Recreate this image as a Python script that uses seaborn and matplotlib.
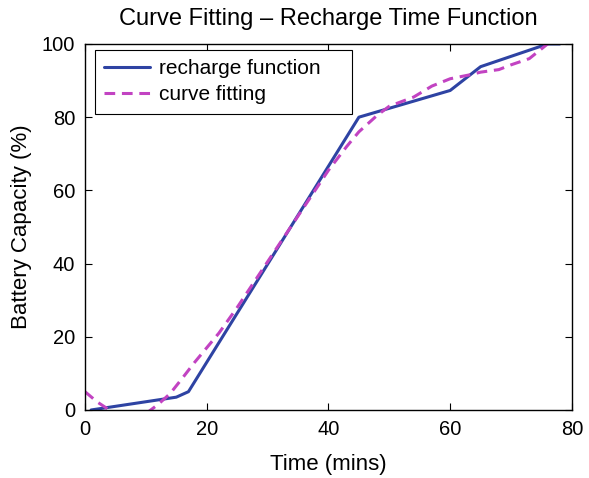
import numpy as np
import pandas as pd
import matplotlib
matplotlib.use("Agg")
import matplotlib.pyplot as plt
import seaborn as sns

# recharge function (piecewise linear)
recharge_time = [1, 15, 17, 45, 60, 65, 76, 78]
recharge_capacity = [0, 3.5, 5, 80, 87.3, 93.8, 100, 100]

# fitted curve
fit_time = [0, 2, 4, 6, 8, 10, 12, 14, 16, 18, 20, 22, 25, 30, 35, 40, 43, 45,
            48, 50, 54, 57, 60, 63, 65, 68, 70, 73, 76]
fit_capacity = [5, 2.2, 0, -1.5, -2, -1, 1.5, 4.5, 8.7, 13, 17, 21, 28, 40.5, 53,
                65.5, 72, 76, 80.5, 83, 85.5, 88.5, 90.5, 91.5, 92.3, 93, 94.3, 96, 100]

df = pd.concat([
    pd.DataFrame({"Time": recharge_time, "Capacity": recharge_capacity,
                  "Series": "recharge function"}),
    pd.DataFrame({"Time": fit_time, "Capacity": fit_capacity,
                  "Series": "curve fitting"}),
])

sns.set_style("ticks")
plt.rcParams["font.family"] = ["Liberation Sans", "DejaVu Sans"]
for key in ["text.color", "axes.labelcolor", "xtick.color", "ytick.color", "axes.edgecolor"]:
    plt.rcParams[key] = "black"

fig = plt.figure(figsize=(5.89, 4.78), dpi=100)
ax = fig.add_axes([0.1443, 0.1423, 0.8267, 0.7657])

sns.lineplot(data=df, x="Time", y="Capacity", hue="Series", style="Series",
             palette={"recharge function": "#2e43a3", "curve fitting": "#c243c2"},
             dashes={"recharge function": "", "curve fitting": (3.5, 2.2)},
             linewidth=2.2, sort=False, ax=ax)

ax.set_xlim(0, 80)
ax.set_ylim(0, 100)
ax.set_xticks([0, 20, 40, 60, 80])
ax.set_yticks([0, 20, 40, 60, 80, 100])
ax.tick_params(direction="in", top=True, right=True, labelsize=14.5, length=5,
               width=0.8, pad=7)
for s in ax.spines.values():
    s.set_visible(True)
    s.set_linewidth(1.0)
ax.set_xlabel("Time (mins)", fontsize=16, labelpad=11)
ax.set_ylabel("Battery Capacity (%)", fontsize=16, labelpad=7)
ax.set_title("Curve Fitting \u2013 Recharge Time Function", fontsize=17, pad=14)

leg = ax.legend(loc="upper left", bbox_to_anchor=(0.0205, 0, 0.528, 0.984),
                mode="expand", borderaxespad=0, fontsize=15, fancybox=False,
                framealpha=1, edgecolor="black", handlelength=2.2,
                handletextpad=0.4, labelspacing=0.35, borderpad=0.45)
leg.get_frame().set_linewidth(0.8)

fig.savefig("out.png", dpi=100)
